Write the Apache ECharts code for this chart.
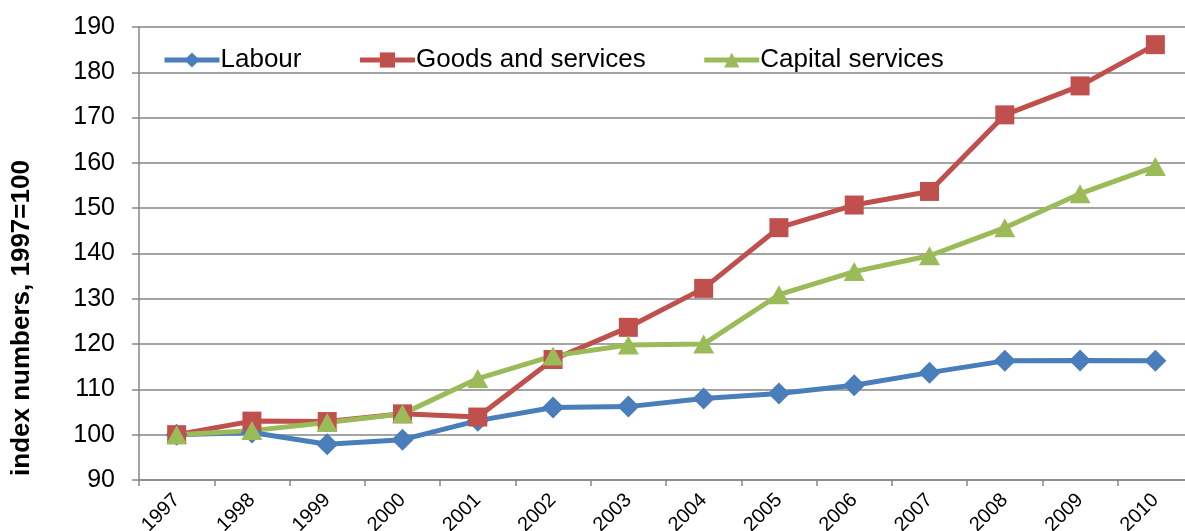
<!DOCTYPE html>
<html>
<head>
<meta charset="utf-8">
<script src="https://cdn.jsdelivr.net/npm/echarts@6/dist/echarts.min.js"></script>
<style>
  html, body { margin: 0; padding: 0; background: #ffffff; overflow: hidden; }
  /* the plot area runs slightly past the right edge of the page */
  #chart { width: 1200px; height: 531px; }
</style>
</head>
<body>
<div id="chart"></div>
<script>
// Input price indices, 1997 = 100
const years = ['1997', '1998', '1999', '2000', '2001', '2002', '2003',
               '2004', '2005', '2006', '2007', '2008', '2009', '2010'];
const labour = [100, 100.5, 97.9, 98.9, 103.1, 106.0, 106.2,
                108.0, 109.1, 110.9, 113.7, 116.3, 116.4, 116.3];
const goodsAndServices = [100, 103.0, 102.9, 104.6, 103.9, 116.6, 123.7,
                          132.3, 145.7, 150.7, 153.7, 170.6, 177.0, 186.1];
const capitalServices = [100, 100.9, 102.7, 104.6, 112.4, 117.4, 119.8,
                         120.0, 130.9, 136.0, 139.5, 145.7, 153.2, 159.2];
const yTicks = { min: 90, max: 190, interval: 10 };

const font = '"Liberation Sans", Arial, sans-serif';
const axisGrey = '#868686';

function lineSeries(name, data, color, symbol, size) {
  return {
    name: name,
    type: 'line',
    data: data,
    symbol: symbol,
    symbolSize: size,
    showAllSymbol: true,
    lineStyle: { color: color, width: 5 },
    itemStyle: { color: color },
    emphasis: { disabled: true },
    animation: false
  };
}

const chart = echarts.init(document.getElementById('chart'), null, { renderer: 'canvas' });
chart.setOption({
  backgroundColor: '#ffffff',
  textStyle: { fontFamily: font },
  grid: {
    left: 139, top: 27, height: 453, width: 1054,
    containLabel: false,
    outerBoundsMode: 'none'
  },
  legend: {
    left: 162,
    top: 47,
    padding: 0,
    itemWidth: 55,
    itemHeight: 19,
    itemGap: 56,
    lineStyle: { width: 5 },
    textStyle: { fontSize: 26, color: '#000000', fontFamily: font, padding: [0, 0, 0, -4] },
    data: ['Labour', 'Goods and services', 'Capital services']
  },
  xAxis: {
    type: 'category',
    data: years,
    boundaryGap: true,
    axisLine: { lineStyle: { color: axisGrey, width: 1.5 } },
    axisTick: { show: true, length: 6, lineStyle: { color: axisGrey, width: 1.5 } },
    axisLabel: {
      rotate: 45,
      fontSize: 20,
      color: '#000000',
      fontFamily: font,
      margin: 17,
      interval: 0
    }
  },
  yAxis: {
    type: 'value',
    min: yTicks.min,
    max: yTicks.max,
    interval: yTicks.interval,
    axisLine: { show: true, lineStyle: { color: axisGrey, width: 1.5 } },
    axisTick: { show: true, length: 7, lineStyle: { color: axisGrey, width: 1.5 } },
    splitLine: { show: true, lineStyle: { color: axisGrey, width: 1.5 } },
    axisLabel: { fontSize: 25, color: '#000000', fontFamily: font, margin: 24 }
  },
  graphic: [{
    type: 'text',
    x: 22,
    y: 318,
    rotation: Math.PI / 2,
    style: {
      text: 'index numbers, 1997=100',
      fontSize: 26,
      fontWeight: 'bold',
      fontFamily: font,
      fill: '#000000',
      textAlign: 'center',
      textVerticalAlign: 'middle'
    }
  }],
  series: [
    lineSeries('Labour', labour, '#4A7EBB', 'diamond', [22, 22]),
    lineSeries('Goods and services', goodsAndServices, '#C0504D', 'rect', [19, 19]),
    lineSeries('Capital services', capitalServices, '#9BBB59', 'triangle', [21, 19])
  ]
});
</script>
</body>
</html>
